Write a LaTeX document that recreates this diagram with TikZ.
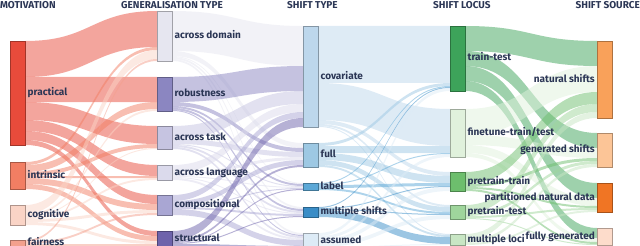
\documentclass[tikz,border=0pt]{standalone}
\usepackage{fontspec}
\setmainfont{Fira Sans}
\definecolor{txt}{HTML}{2B3655}
\definecolor{cP}{HTML}{E84B3B}\definecolor{cI}{HTML}{F27E63}\definecolor{cCg}{HTML}{FAD4C6}\definecolor{cF}{HTML}{F3A08D}
\definecolor{cAD}{HTML}{E6E6F0}\definecolor{cRob}{HTML}{8B86C1}\definecolor{cAT}{HTML}{C6C4E1}\definecolor{cAL}{HTML}{DBDAEC}\definecolor{cComp}{HTML}{A9A6D3}\definecolor{cStr}{HTML}{6E63AB}
\definecolor{cCov}{HTML}{BDD7EC}\definecolor{cFull}{HTML}{9DC8E3}\definecolor{cLab}{HTML}{5CA8D7}\definecolor{cMult}{HTML}{3A8DC7}\definecolor{cAss}{HTML}{DDEBF6}
\definecolor{cTT}{HTML}{3DA35A}\definecolor{cFT}{HTML}{E0F1DC}\definecolor{cPTr}{HTML}{6DBE6D}\definecolor{cPTe}{HTML}{9FD59C}\definecolor{cML}{HTML}{C8E6C4}
\definecolor{cNS}{HTML}{F9A15A}\definecolor{cGS}{HTML}{FCC597}\definecolor{cPND}{HTML}{F07524}\definecolor{cFG}{HTML}{FDDCCB}
\def\nodew{15.5}
\newcommand\defnode[5]{%
  \expandafter\xdef\csname nx@#1\endcsname{#2}%
  \expandafter\xdef\csname nt@#1\endcsname{#3}%
  \expandafter\xdef\csname nb@#1\endcsname{#4}%
  \expandafter\xdef\csname no@#1\endcsname{#3}%
  \expandafter\xdef\csname ni@#1\endcsname{#3}%
  \expandafter\xdef\csname nc@#1\endcsname{#5}%
}
\newcommand\flow[3]{%
  \pgfmathsetmacro\fxa{\csname nx@#1\endcsname+\nodew}%
  \pgfmathsetmacro\fxb{\csname nx@#2\endcsname}%
  \pgfmathsetmacro\fya{\csname no@#1\endcsname}%
  \pgfmathsetmacro\fyb{\csname ni@#2\endcsname}%
  \pgfmathsetmacro\fyaa{\fya+#3}%
  \pgfmathsetmacro\fybb{\fyb+#3}%
  \pgfmathsetmacro\fxm{(\fxa+\fxb)/2}%
  \edef\fcol{\csname nc@#1\endcsname}%
  \fill[flowband, fill=\fcol] (\fxa,\fya) .. controls (\fxm,\fya) and (\fxm,\fyb) .. (\fxb,\fyb) -- (\fxb,\fybb) .. controls (\fxm,\fybb) and (\fxm,\fyaa) .. (\fxa,\fyaa) -- cycle;
  \expandafter\xdef\csname no@#1\endcsname{\fyaa}%
  \expandafter\xdef\csname ni@#2\endcsname{\fybb}%
}
\newcommand\shownode[3]{%
  \pgfmathsetmacro\sx{\csname nx@#1\endcsname}%
  \pgfmathsetmacro\st{\csname nt@#1\endcsname}%
  \pgfmathsetmacro\sh{\csname nb@#1\endcsname-\csname nt@#1\endcsname}%
  \edef\scol{\csname nc@#1\endcsname}%
  \node[nodebox, fill=\scol, draw=\scol!70!black, minimum height=\sh pt, anchor=north west] (#1) at (\sx,\st) {};
  \if r#3\node[lbl, anchor=west] (#1-l) at ([xshift=2pt]#1.east) {#2};%
  \else\node[lbl, anchor=east] (#1-l) at ([xshift=-2pt]#1.west) {#2};\fi
}
\begin{document}
\begin{tikzpicture}[x=1pt,y=-1pt,
  flowband/.style={fill opacity=0.5},
  nodebox/.style={rectangle, inner sep=0pt, outer sep=0pt, minimum width=\nodew pt, line width=0.5pt},
  lbl/.style={text=txt, font=\bfseries\fontsize{10}{12}\selectfont, inner sep=0pt, text height=7pt, text depth=2pt},
  hdr/.style={text=txt, font=\bfseries\fontsize{10}{12}\selectfont, inner sep=0pt, text height=7pt, text depth=0pt}]
\useasboundingbox (0,0) rectangle (640,246);
\clip (0,0) rectangle (640,246);
% nodes: name, x, top, bottom, colour
\defnode{P}{10}{41}{145}{cP}\defnode{I}{10}{162}{189}{cI}\defnode{Cg}{10}{205}{225}{cCg}\defnode{F}{10}{240}{246}{cF}
\defnode{AD}{157}{11}{61}{cAD}\defnode{Rob}{157}{77}{111}{cRob}\defnode{AT}{157}{126}{149}{cAT}\defnode{AL}{157}{165}{180}{cAL}\defnode{Comp}{157}{195}{215}{cComp}\defnode{Str}{157}{231}{246}{cStr}
\defnode{Cov}{303}{26}{127}{cCov}\defnode{Full}{303}{143}{167}{cFull}\defnode{Lab}{303}{183}{190}{cLab}\defnode{Mult}{303}{207}{217}{cMult}\defnode{Ass}{303}{233}{248}{cAss}
\defnode{TT}{450}{26}{91}{cTT}\defnode{FT}{450}{109}{157}{cFT}\defnode{PTr}{450}{172}{191}{cPTr}\defnode{PTe}{450}{205}{219}{cPTe}\defnode{ML}{450}{234}{245}{cML}
\defnode{NS}{597}{41}{118}{cNS}\defnode{GS}{597}{133}{167}{cGS}\defnode{PND}{597}{183}{212}{cPND}\defnode{FG}{597}{228}{245}{cFG}
% motivation -> generalisation type
\flow{P}{AD}{36}\flow{P}{Rob}{25}\flow{P}{AT}{18}\flow{P}{AL}{11}\flow{P}{Comp}{9}\flow{P}{Str}{5}
\flow{I}{AD}{3}\flow{I}{Rob}{7}\flow{I}{AT}{4}\flow{I}{AL}{2}\flow{I}{Comp}{6}\flow{I}{Str}{5}
\flow{Cg}{AD}{9}\flow{Cg}{Rob}{2}\flow{Cg}{AT}{1}\flow{Cg}{AL}{2}\flow{Cg}{Comp}{3}\flow{Cg}{Str}{3}
\flow{F}{AD}{2}\flow{F}{Comp}{2}\flow{F}{Str}{2}
% generalisation type -> shift type
\flow{AD}{Cov}{40}\flow{AD}{Full}{5}\flow{AD}{Lab}{1}\flow{AD}{Mult}{2}\flow{AD}{Ass}{2}
\flow{Rob}{Cov}{25}\flow{Rob}{Full}{4}\flow{Rob}{Lab}{2}\flow{Rob}{Mult}{2}\flow{Rob}{Ass}{1}
\flow{AT}{Cov}{13}\flow{AT}{Full}{5}\flow{AT}{Lab}{1}\flow{AT}{Mult}{2}\flow{AT}{Ass}{2}
\flow{AL}{Cov}{8}\flow{AL}{Full}{3}\flow{AL}{Lab}{1}\flow{AL}{Mult}{1}\flow{AL}{Ass}{2}
\flow{Comp}{Cov}{6}\flow{Comp}{Full}{5}\flow{Comp}{Lab}{1}\flow{Comp}{Mult}{2}\flow{Comp}{Ass}{6}
\flow{Str}{Cov}{9}\flow{Str}{Full}{2}\flow{Str}{Lab}{1}\flow{Str}{Mult}{1}\flow{Str}{Ass}{2}
% shift type -> shift locus
\flow{Cov}{TT}{57}\flow{Cov}{FT}{37}\flow{Cov}{PTr}{4}\flow{Cov}{PTe}{2}\flow{Cov}{ML}{1}
\flow{Full}{TT}{3}\flow{Full}{FT}{7}\flow{Full}{PTr}{7}\flow{Full}{PTe}{5}\flow{Full}{ML}{2}
\flow{Lab}{TT}{1}\flow{Lab}{FT}{1}\flow{Lab}{PTr}{3}\flow{Lab}{PTe}{2}
\flow{Mult}{TT}{1}\flow{Mult}{PTr}{1}\flow{Mult}{PTe}{1}\flow{Mult}{ML}{7}
\flow{Ass}{TT}{3}\flow{Ass}{FT}{3}\flow{Ass}{PTr}{4}\flow{Ass}{PTe}{4}\flow{Ass}{ML}{1}
% shift locus -> shift source
\flow{TT}{NS}{25}\flow{TT}{GS}{15}\flow{TT}{PND}{15}\flow{TT}{FG}{10}
\flow{FT}{NS}{26}\flow{FT}{GS}{10}\flow{FT}{PND}{8}\flow{FT}{FG}{4}
\flow{PTr}{NS}{12}\flow{PTr}{GS}{3}\flow{PTr}{PND}{2}\flow{PTr}{FG}{2}
\flow{PTe}{NS}{8}\flow{PTe}{GS}{3}\flow{PTe}{PND}{2}\flow{PTe}{FG}{1}
\flow{ML}{NS}{6}\flow{ML}{GS}{3}\flow{ML}{PND}{2}
% nodes and labels
\shownode{P}{practical}{r}\shownode{I}{intrinsic}{r}\shownode{Cg}{cognitive}{r}\shownode{F}{fairness}{r}
\shownode{AD}{across domain}{r}\shownode{Rob}{robustness}{r}\shownode{AT}{across task}{r}\shownode{AL}{across language}{r}\shownode{Comp}{compositional}{r}\shownode{Str}{structural}{r}
\shownode{Cov}{covariate}{r}\shownode{Full}{full}{r}\shownode{Lab}{label}{r}\shownode{Mult}{multiple shifts}{r}\shownode{Ass}{assumed}{r}
\shownode{TT}{train-test}{r}\shownode{FT}{finetune-train/test}{r}\shownode{PTr}{pretrain-train}{r}\shownode{PTe}{pretrain-test}{r}\shownode{ML}{multiple loci}{r}
\shownode{NS}{natural shifts}{l}\shownode{GS}{generated shifts}{l}\shownode{PND}{partitioned natural data}{l}\shownode{FG}{fully generated}{l}
% headers
\node[hdr, anchor=north west] (h1) at (0,1.5) {MOTIVATION};
\node[hdr, anchor=north west] (h2) at (121,1.5) {GENERALISATION TYPE};
\node[hdr, anchor=north west] (h3) at (287,1.5) {SHIFT TYPE};
\node[hdr, anchor=north west] (h4) at (433,1.5) {SHIFT LOCUS};
\node[hdr, anchor=north east] (h5) at (640,1.5) {SHIFT SOURCE};
\end{tikzpicture}
\end{document}
